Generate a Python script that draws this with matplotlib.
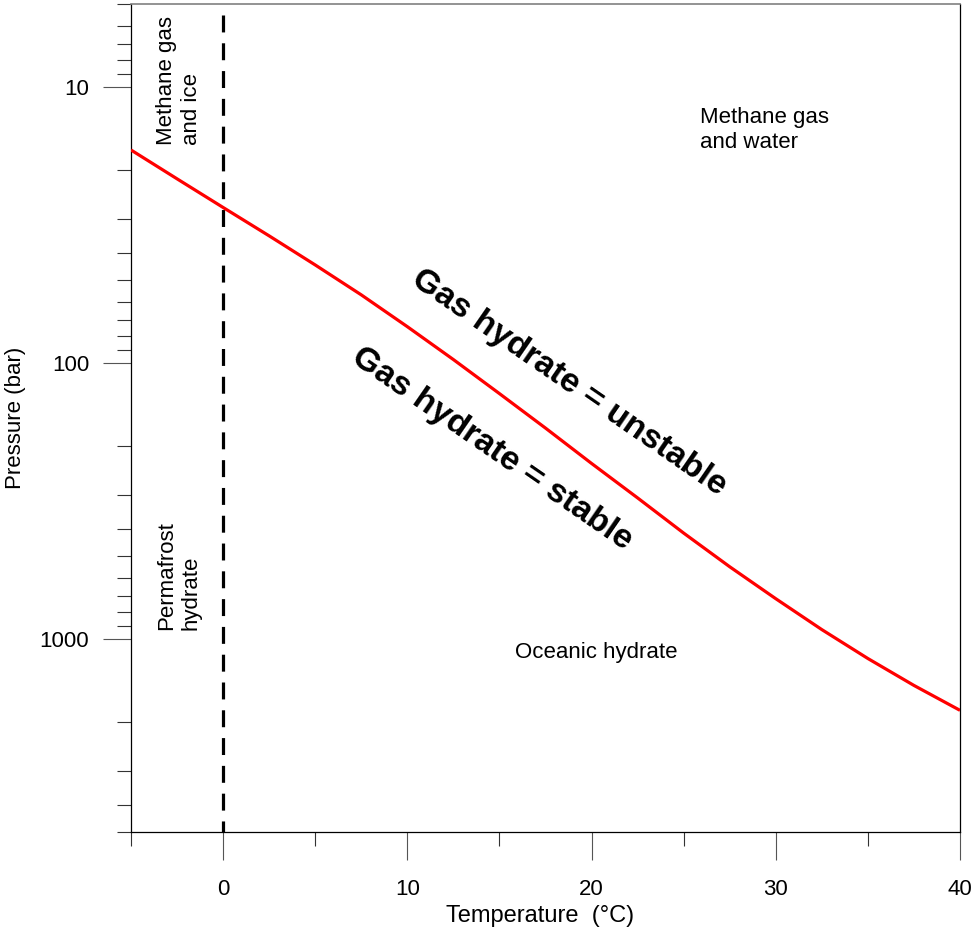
import numpy as np
import matplotlib as mpl
mpl.use('Agg')
import matplotlib.pyplot as plt
from matplotlib.ticker import MultipleLocator, LogLocator, NullFormatter
mpl.rcParams['font.family'] = 'Liberation Sans'

# methane hydrate stability boundary (temperature in C, pressure in bar)
temp_c = [-5, -2.5, 0, 2.5, 5, 7.5, 10, 12.5, 15, 17.5, 20,
          22.5, 25, 27.5, 30, 32.5, 35, 37.5, 40]
pressure_bar = [16.9, 21.5, 27.3, 34.6, 44.1, 56.6, 73.8, 97.1, 129, 172, 231,
                308, 413, 547, 714, 924, 1176, 1472, 1812]

# freezing point of water
ice_line_t = 0

y_ticks = [10, 100, 1000]
y_tick_labels = ['10', '100', '1000']

fig = plt.figure(figsize=(9.72, 9.27), dpi=100)
ax = fig.add_axes([131 / 972, 1 - 832 / 927, (960 - 131) / 972, (832 - 4) / 927])

# phase boundary
ax.plot(temp_c, pressure_bar, color='#ff0000', lw=2.3, solid_capstyle='butt',
        solid_joinstyle='round', zorder=3)
# 0 C line
ax.plot([ice_line_t, ice_line_t], [5.5, 5000], color='black', lw=2.3,
        linestyle=(0, (5.3, 3.4)), zorder=2, clip_on=False)

ax.set_yscale('log')
ax.set_xlim(-5, 40)
ax.set_ylim(5000, 5)

ax.xaxis.set_major_locator(MultipleLocator(10))
ax.xaxis.set_minor_locator(MultipleLocator(5))
ax.set_yticks(y_ticks)
ax.set_yticklabels(y_tick_labels)
ax.yaxis.set_minor_locator(LogLocator(base=10, subs=np.arange(2, 10)))
ax.yaxis.set_minor_formatter(NullFormatter())

ax.tick_params(axis='both', which='major', direction='out', length=20, width=0.8,
               labelsize=16, color='#555555')
ax.tick_params(axis='both', which='minor', direction='out', length=10, width=0.8,
               color='#333333')
ax.tick_params(axis='x', which='major', pad=14)
ax.tick_params(axis='y', which='major', pad=10)

for side in ['left', 'right', 'bottom']:
    ax.spines[side].set_linewidth(0.9)
    ax.spines[side].set_color('black')
ax.spines['top'].set_linewidth(1.2)
ax.spines['top'].set_color('#808080')

ax.set_xlabel('Temperature  (\u00b0C)', fontsize=17)
ax.xaxis.set_label_coords(0.493, -0.088)
ax.set_ylabel('Pressure (bar)', fontsize=16, labelpad=10)

# region labels
ax.text(-2.39, 16.2, 'Methane gas\nand ice', rotation=90, fontsize=16,
        ha='center', va='bottom', multialignment='left')
ax.text(-2.39, 929, 'Permafrost\nhydrate', rotation=90, fontsize=16,
        ha='center', va='bottom', multialignment='left')
ax.text(25.87, 14.3, 'Methane gas\nand water', fontsize=16, ha='left', va='center')
ax.text(15.87, 1122, 'Oceanic hydrate', fontsize=16, ha='left', va='center')

ax.text(18.8, 118, 'Gas hydrate = unstable', fontsize=24.5, fontweight='bold',
        rotation=-34.6, rotation_mode='anchor', ha='center', va='center')
ax.text(14.6, 204, 'Gas hydrate = stable', fontsize=24.5, fontweight='bold',
        rotation=-34.6, rotation_mode='anchor', ha='center', va='center')

plt.savefig('out.png', dpi=100)
